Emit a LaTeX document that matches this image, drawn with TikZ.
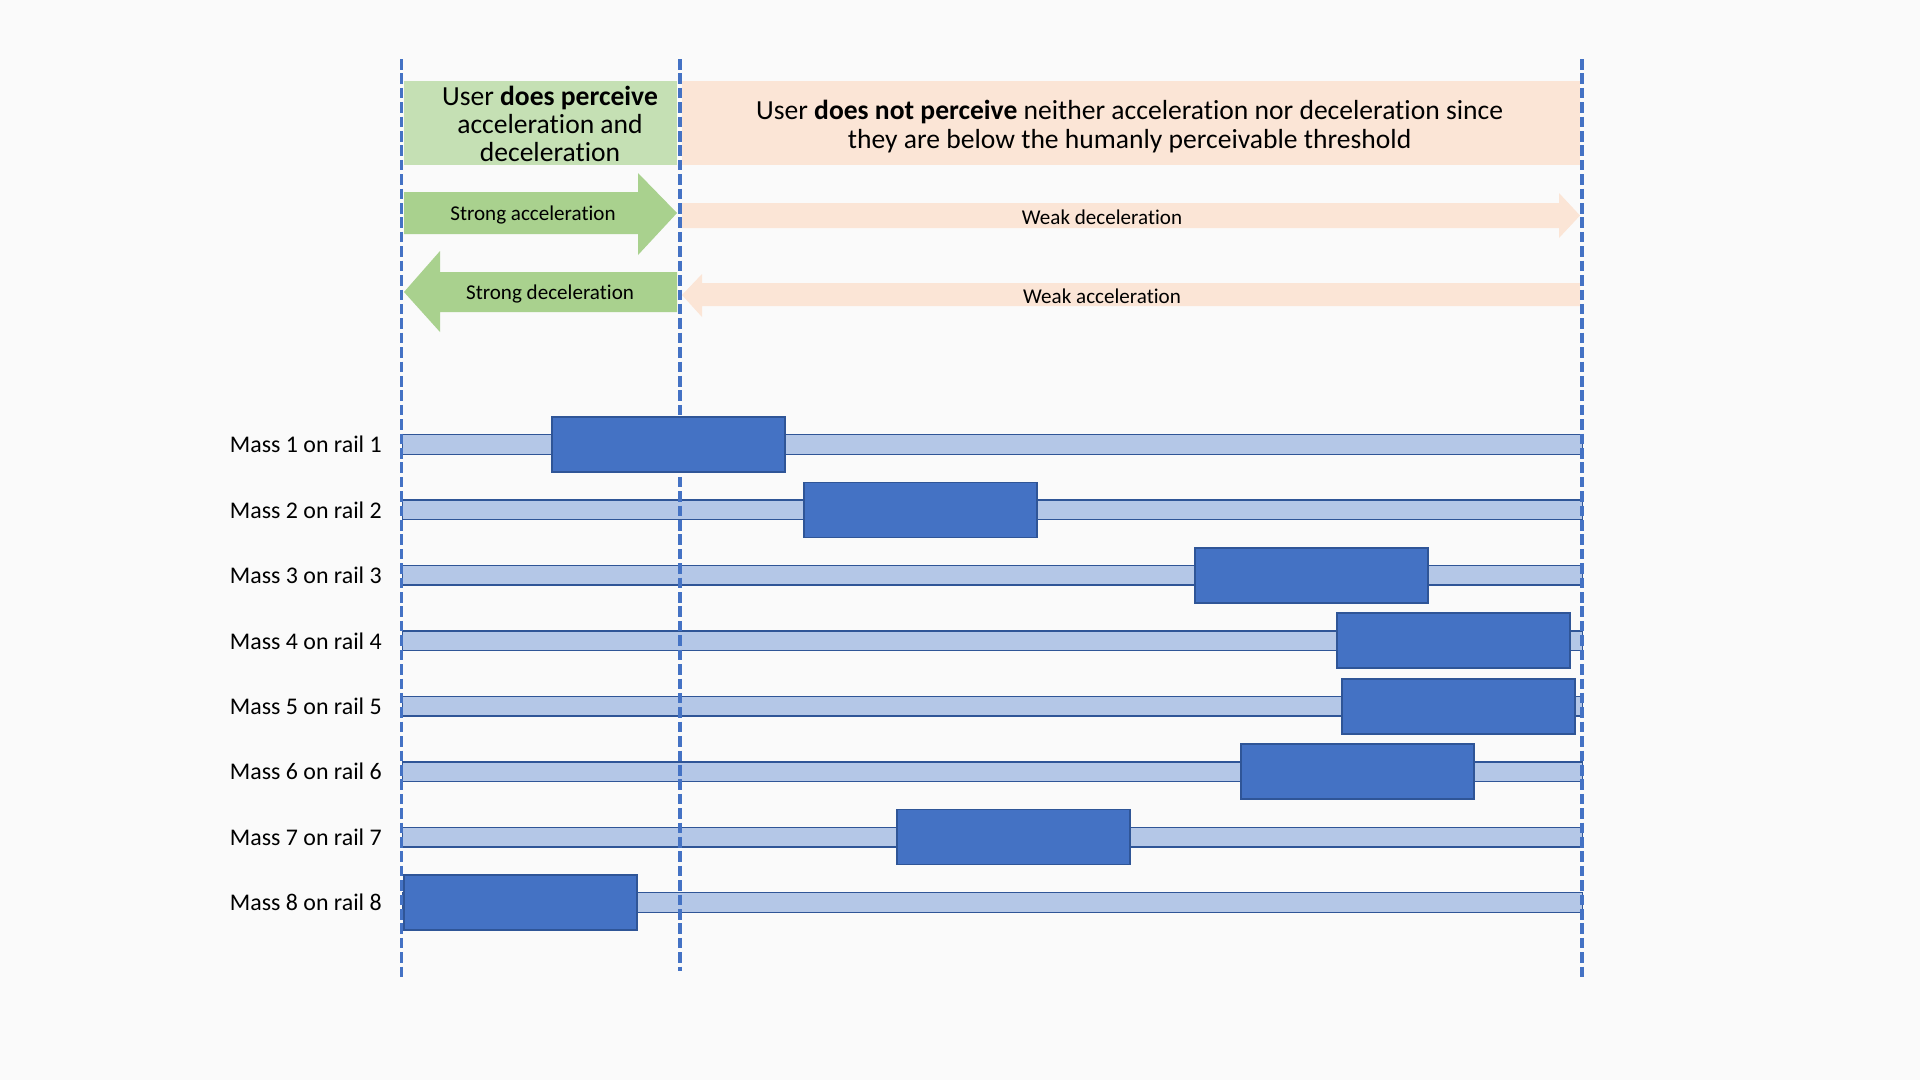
\documentclass[tikz,border=0pt]{standalone}
\usepackage{fontspec}
\setmainfont{Carlito}[Ligatures=NoCommon]
\usetikzlibrary{calc,positioning}
\definecolor{bg}{HTML}{FAFAFA}
\definecolor{greenbox}{HTML}{C5E0B4}
\definecolor{greenarr}{HTML}{A9D18E}
\definecolor{peach}{HTML}{FBE5D6}
\definecolor{railfill}{HTML}{B4C7E7}
\definecolor{edge}{HTML}{2F5597}
\definecolor{massfill}{HTML}{4472C4}
\definecolor{divider}{HTML}{4472C4}
\tikzset{
  rail/.style={fill=railfill, draw=edge, line width=0.8pt, inner sep=0,
    minimum width=23.61cm, minimum height=0.39cm, anchor=west},
  mass/.style={fill=massfill, draw=edge, line width=1pt, inner sep=0,
    minimum width=4.66cm, minimum height=1.1cm, anchor=west},
  lab/.style={font=\fontsize{13.6pt}{16pt}\selectfont, inner sep=0},
  arrlab/.style={font=\fontsize{12pt}{14pt}\selectfont, inner sep=0},
  headlab/.style={font=\fontsize{15.7pt}{16pt}\selectfont, align=center, inner sep=0},
  divline/.style={draw=divider, line width=1.8pt, dash pattern=on 6pt off 2.2pt},
}

\begin{document}
\begin{tikzpicture}[x=0.02cm, y=-0.02cm]
  \useasboundingbox[fill=bg] (0,0) rectangle (1920,1080);

  % perception zones
  \fill[greenbox] (404,81) rectangle (677,165);
  \fill[peach] (682,81) rectangle (1580,165);
  \node[headlab] (seen) at (550,124) {User \textbf{does perceive}\\acceleration and\\deceleration};
  \node[headlab] (unseen) at (1129.6,126.5) {User \textbf{does not perceive} neither acceleration nor deceleration since\\they are below the humanly perceivable threshold};

  % arrows
  \fill[greenarr] (404,192) -- (638,192) -- (638,173) -- (677,213) -- (638,255) -- (638,234) -- (404,234) -- cycle;
  \fill[peach] (682,203) -- (1559,203) -- (1559,193) -- (1580,215.5) -- (1559,238) -- (1559,228) -- (682,228) -- cycle;
  \fill[greenarr] (677,272) -- (440,272) -- (440,251) -- (404,292) -- (440,332) -- (440,312) -- (677,312) -- cycle;
  \fill[peach] (1580,283) -- (702,283) -- (702,274) -- (682,295) -- (702,317) -- (702,306) -- (1580,306) -- cycle;
  \node[arrlab] (sacc) at (533,215) {Strong acceleration};
  \node[arrlab] (wdec) at (1102,217) {Weak deceleration};
  \node[arrlab] (sdec) at (550,293.5) {Strong deceleration};
  \node[arrlab] (wacc) at (1102,296) {Weak acceleration};

  % rails
  \foreach \i in {1,...,8} {
    \node[rail] (r\i) at (401.6,{444.5+65.43*(\i-1)}) {};
    \node[lab, left=0.39cm of r\i] (l\i) {Mass \i\ on rail \i};
  }

  % thresholds
  \foreach \n/\x/\yb in {L/401.6/980, M/680/971, R/1582/980} {
    \coordinate (\n top) at (\x,59);
    \coordinate (\n bot) at (\x,\yb);
    \draw[divline] (\n top) -- (\n bot);
  }

  % masses
  \foreach \i/\mx in {1/551,2/803,3/1194,4/1336,5/1341,6/1240,7/896,8/403}
    \node[mass] (m\i) at (\mx,{444.5+65.43*(\i-1)}) {};
\end{tikzpicture}
\end{document}
